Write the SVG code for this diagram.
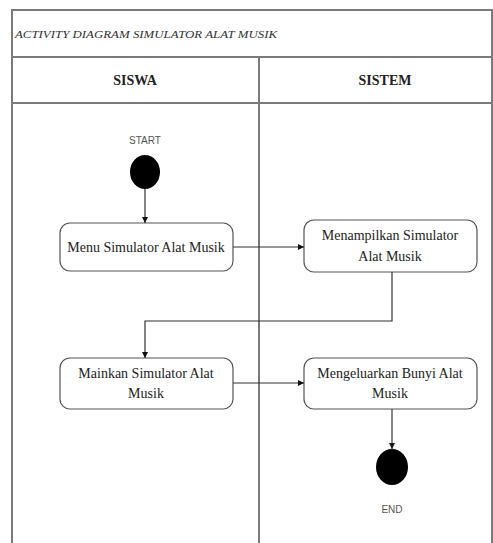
<svg xmlns="http://www.w3.org/2000/svg" width="493" height="543" viewBox="0 0 493 543">
<style>
.frame{fill:none;stroke:#7a7a7a;stroke-width:2}
.node rect{fill:#fff;stroke:#555;stroke-width:1.2}
.node text{font-family:"Liberation Serif","Times New Roman",serif;font-size:14px;fill:#222;text-anchor:middle}
.lbl{font-family:"Liberation Sans",sans-serif;font-size:10px;fill:#555;text-anchor:middle}
.hdr{font-family:"Liberation Serif",serif;font-size:14px;font-weight:bold;fill:#222;text-anchor:middle}
.conn{fill:none;stroke:#333;stroke-width:1.2;marker-end:url(#ah)}
</style>
<defs>
<marker id="ah" viewBox="0 0 10 10" refX="10" refY="5" markerWidth="6" markerHeight="6" markerUnits="userSpaceOnUse" orient="auto">
<path d="M0,0 L10,5 L0,10 z" fill="#111"/>
</marker>
</defs>
<rect width="493" height="543" fill="#fff"/>
<g id="frame">
<path class="frame" d="M12,543 V10 H492 V543"/>
<line class="frame" x1="12" y1="57" x2="492" y2="57"/>
<line class="frame" x1="12" y1="103" x2="492" y2="103"/>
<line class="frame" x1="259" y1="57" x2="259" y2="543"/>
<text x="15" y="38" font-family="Liberation Serif,serif" font-size="10.5" font-style="italic" fill="#333" textLength="262" lengthAdjust="spacingAndGlyphs">ACTIVITY DIAGRAM  SIMULATOR ALAT MUSIK</text>
<text class="hdr" x="135" y="85">SISWA</text>
<text class="hdr" x="385" y="85">SISTEM</text>
</g>
<g id="start">
<text class="lbl" x="145" y="144">START</text>
<ellipse cx="145" cy="172" rx="15" ry="17" fill="#000"/>
</g>
<g id="n1" class="node">
<rect x="60" y="223" width="173" height="48" rx="10"/>
<text x="146" y="252">Menu Simulator Alat Musik</text>
</g>
<g id="n2" class="node">
<rect x="304" y="220" width="173" height="52" rx="10"/>
<text x="390" y="240">Menampilkan Simulator</text>
<text x="390" y="261">Alat Musik</text>
</g>
<g id="n3" class="node">
<rect x="60" y="358" width="173" height="51" rx="10"/>
<text x="146" y="378">Mainkan Simulator Alat</text>
<text x="146" y="398">Musik</text>
</g>
<g id="n4" class="node">
<rect x="304" y="358" width="173" height="51" rx="10"/>
<text x="390" y="378">Mengeluarkan Bunyi Alat</text>
<text x="390" y="398">Musik</text>
</g>
<g id="end">
<ellipse cx="392" cy="467" rx="16" ry="18" fill="#000"/>
<text class="lbl" x="392" y="513">END</text>
</g>
<g id="connectors">
<path class="conn" d="M145,189 V223"/>
<path class="conn" d="M233,247 H304"/>
<path class="conn" d="M392,272 V321 H145 V358"/>
<path class="conn" d="M233,383 H304"/>
<path class="conn" d="M392,409 V449"/>
</g>
</svg>
